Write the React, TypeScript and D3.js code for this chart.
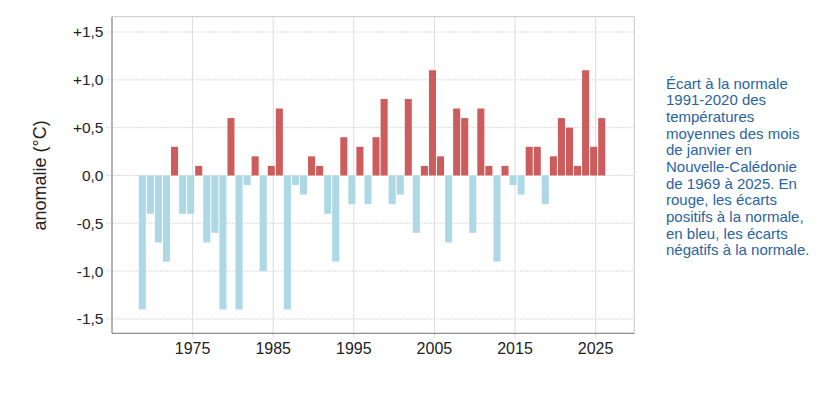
import React from 'react';
import * as d3 from 'd3';

const width = 835;
const height = 398;
const margin = { top: 16.7, right: 200.7, bottom: 64.7, left: 112 };

const red = '#cd5c5c';
const blue = '#add8e6';
const textBlue = '#2a64a0';

// janvier, 1969 -> 2026
const firstYear = 1969;
const anomalies = [
  -1.4, -0.4, -0.7, -0.9, 0.3, -0.4, -0.4, 0.1, -0.7, -0.6,
  -1.4, 0.6, -1.4, -0.1, 0.2, -1.0, 0.1, 0.7, -1.4, -0.1,
  -0.2, 0.2, 0.1, -0.4, -0.9, 0.4, -0.3, 0.3, -0.3, 0.4,
  0.8, -0.3, -0.2, 0.8, -0.6, 0.1, 1.1, 0.2, -0.7, 0.7,
  0.6, -0.6, 0.7, 0.1, -0.9, 0.1, -0.1, -0.2, 0.3, 0.3,
  -0.3, 0.2, 0.6, 0.5, 0.1, 1.1, 0.3, 0.6,
];
const years = anomalies.map((_, i) => firstYear + i);

const xTicks = [1975, 1985, 1995, 2005, 2015, 2025];
const yTicks = [-1.5, -1.0, -0.5, 0, 0.5, 1.0, 1.5];
const yTickLabels = ['-1,5', '-1,0', '-0,5', '0,0', '+0,5', '+1,0', '+1,5'];

const caption = [
  'Écart à la normale',
  '1991-2020 des',
  'températures',
  'moyennes des mois',
  'de janvier en',
  'Nouvelle-Calédonie',
  'de 1969 à 2025. En',
  'rouge, les écarts',
  'positifs à la normale,',
  'en bleu, les écarts',
  'négatifs à la normale.',
];

const x = d3.scaleLinear().domain([1965, 2029.8]).range([margin.left, width - margin.right]);
const y = d3.scaleLinear().domain([-1.65, 1.66]).range([height - margin.bottom, margin.top]);

const barOffset = -0.24; // bar centre relative to the year
const step = x(1) - x(0);
const barWidth = step - 1;

const font = '"Liberation Sans", Arial, sans-serif';

export default function App() {
  const x0 = margin.left;
  const x1 = width - margin.right;
  const y0 = margin.top;
  const y1 = height - margin.bottom;

  return (
    <svg width={width} height={height} style={{ position: 'absolute', left: 0, top: 0 }} fontFamily={font}>
      <rect width={width} height={height} fill="#fff" />
      {/* grid */}
      {yTicks.map((t) => (
        <line key={'gy' + t} x1={x0 - 6} x2={x1} y1={y(t)} y2={y(t)} stroke="#dcdcdc" strokeWidth={1} strokeDasharray="2,1" />
      ))}
      {xTicks.map((t) => (
        <line key={'gx' + t} x1={x(t)} x2={x(t)} y1={y0} y2={y1 + 5} stroke="#dcdcdc" strokeWidth={1} />
      ))}
      {/* bars */}
      {anomalies.map((v, i) => {
        const cx = x(years[i] + barOffset);
        return (
          <rect
            key={years[i]}
            x={cx - barWidth / 2}
            y={v > 0 ? y(v) : y(0)}
            width={barWidth}
            height={Math.abs(y(v) - y(0))}
            fill={v > 0 ? red : blue}
          />
        );
      })}
      {/* frame */}
      <line x1={x0} x2={x1} y1={y0} y2={y0} stroke="#c8c8c8" />
      <line x1={x1} x2={x1} y1={y0} y2={y1} stroke="#c8c8c8" />
      <line x1={x0} x2={x0} y1={y0} y2={y1} stroke="#8c8c8c" strokeWidth={1.3} />
      <line x1={x0} x2={x1} y1={y1} y2={y1} stroke="#8c8c8c" strokeWidth={1.3} />
      {/* y tick labels */}
      {yTicks.map((t, i) => (
        <text key={'ty' + t} x={103.5} y={y(t)} dy="0.35em" textAnchor="end" fontSize={15.5} fill="#222">
          {yTickLabels[i]}
        </text>
      ))}
      {/* x tick labels */}
      {xTicks.map((t) => (
        <text key={'tx' + t} x={x(t)} y={354} textAnchor="middle" fontSize={16} fill="#222">
          {t}
        </text>
      ))}
      <text
        transform={`translate(46,${y(0)}) rotate(-90)`}
        textAnchor="middle"
        fontSize={18}
        fill="#222"
      >
        anomalie (°C)
      </text>
      {/* caption */}
      <text x={666} y={88.5} fontSize={15} fill={textBlue}>
        {caption.map((line, i) => (
          <tspan key={i} x={666} dy={i === 0 ? 0 : 16.7}>
            {line}
          </tspan>
        ))}
      </text>
    </svg>
  );
}
